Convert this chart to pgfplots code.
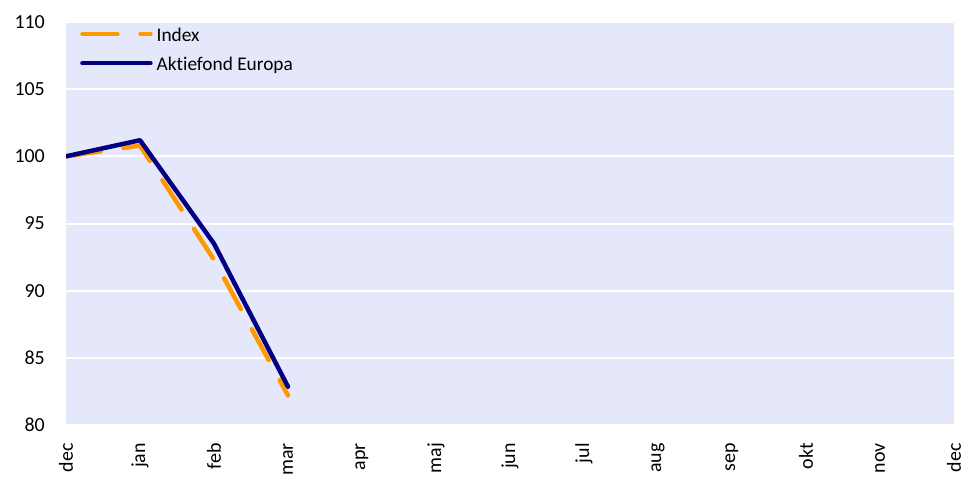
\documentclass[border=0pt]{standalone}
\usepackage{fontspec}
\setmainfont{Carlito}[Ligatures=NoCommon]
\usepackage{pgfplots}
\pgfplotsset{compat=1.18}
\definecolor{bgcol}{RGB}{229,231,251}
\definecolor{idxorange}{RGB}{255,153,0}
\definecolor{fundnavy}{RGB}{0,0,128}
\begin{document}
\begin{tikzpicture}
\begin{axis}[
  name=ax,
  scale only axis,
  width=888bp, height=403bp,
  xmin=0, xmax=12,
  ymin=80, ymax=110,
  ytick={80,85,...,110},
  xtick={0,...,12},
  xticklabels={dec,jan,feb,mar,apr,maj,jun,jul,aug,sep,okt,nov,dec},
  /pgf/number format/assume math mode=true,
  axis background/.style={fill=bgcol},
  axis line style={draw=none},
  major tick length=0pt,
  tick style={draw=none},
  ymajorgrids,
  grid style={white, line width=2bp},
  ticklabel style={font=\fontsize{20}{24}\selectfont, text=black},
  yticklabel style={anchor=east, inner sep=0pt, xshift=-21bp},
  xticklabel style={rotate=90, anchor=east, inner xsep=18bp, inner ysep=0pt},
  legend style={draw=none, fill=none, at={(0,1)}, anchor=north west,
    xshift=14bp, yshift=-4bp, font=\fontsize{19.4}{23}\selectfont,
    row sep=8bp, column sep=3bp, inner sep=0pt,
    nodes={inner sep=1bp, text height=14bp, text depth=5bp}},
  legend cell align=left,
  legend image code/.code={\draw[#1] (2bp,2.5bp) -- (70bp,2.5bp);},
]
\addplot[idxorange, line width=4.5bp, line cap=round, dash pattern=on 35bp off 23bp] coordinates {
  (0,100) (1,100.8) (2,92.3) (3,82.2)
};
\addlegendentry{Index}
\addplot[fundnavy, line width=4.5bp, line cap=round, line join=round] coordinates {
  (0,100) (1,101.2) (2,93.5) (3,82.85)
};
\addlegendentry{Aktiefond Europa}
\end{axis}
\pgfresetboundingbox
\path[use as bounding box] ([shift={(-66bp,-53bp)}]ax.south west) rectangle ([shift={(10bp,22bp)}]ax.north east);
\end{tikzpicture}
\end{document}
